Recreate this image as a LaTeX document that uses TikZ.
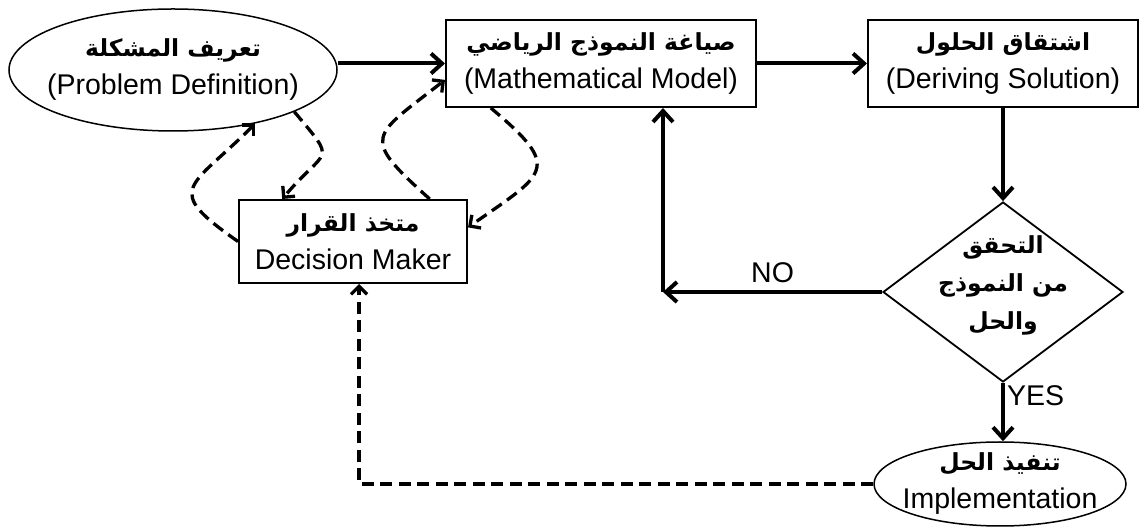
\documentclass[tikz,border=0pt]{standalone}
\usepackage{fontspec}
\setmainfont{Liberation Sans}
\newfontfamily\arabicfont[Script=Arabic]{DejaVu Sans}
\TeXXeTstate=1
\usetikzlibrary{arrows.meta}
\usetikzlibrary{shapes.geometric}
\newcommand{\artext}[1]{{\arabicfont\bfseries\fontsize{23.5}{38}\selectfont\beginR #1\endR}}

\begin{document}
\begin{tikzpicture}[x=1pt,y=1pt,
    font=\fontsize{28.5}{38}\selectfont,
    box/.style={draw, line width=2pt, rectangle, align=center, inner sep=0pt},
    oval/.style={draw, line width=1.5pt, ellipse, align=center, inner sep=-30pt},
    rhombus/.style={draw, line width=1.8pt, diamond, align=center, inner sep=-40pt},
    flow/.style={line width=4pt, -{Straight Barb[length=11pt,width=20pt]}},
    link/.style={line width=3.3pt, dash pattern=on 12pt off 6.5pt, -{Straight Barb[length=8pt,width=16pt]}}]

    \useasboundingbox (0,0) rectangle (1147,532);

    % nodes
    \node[oval, minimum width=328pt, minimum height=122pt] (prob) at (173,462)
        {\artext{تعريف المشكلة}\\(Problem Definition)};
    \node[box, minimum width=310pt, minimum height=87pt] (math) at (601,468.5)
        {\artext{صياغة النموذج الرياضي}\\(Mathematical Model)};
    \node[box, minimum width=270pt, minimum height=87pt] (deriv) at (1003,468.5)
        {\artext{اشتقاق الحلول}\\(Deriving Solution)};
    \node[box, minimum width=228pt, minimum height=83pt] (dm) at (353,290.5)
        {\artext{متخذ القرار}\\Decision Maker};
    \node[rhombus, minimum width=240pt, minimum height=180pt] (check) at (1003,240)
        {\artext{التحقق}\\\artext{من النموذج}\\\artext{والحل}\\[-20pt]};
    \node[oval, minimum width=252pt, minimum height=84pt] (impl) at (1000,48)
        {\artext{تنفيذ الحل}\\Implementation};

    \coordinate (back) at (663,240);
    \coordinate (turn) at (359,48);

    % main flow
    \draw[flow] (prob.east |- math.west) -- (math.west);
    \draw[flow] (math) -- (deriv);
    \draw[flow] (deriv) -- (check);
    \draw[flow] (check.west) -- (back) node[midway, above, yshift=4pt] {NO};
    \draw[flow] (back) -- (back |- math.south);
    \draw[flow] (check.south) -- (check.south |- impl.north) node[pos=0.22, right, inner sep=2pt] {YES};

    % feedback
    \draw[link] (impl.west) -- (turn) -- (turn |- dm.south);
    \draw[link] (prob.-19) to[out=-50, in=50, looseness=2] (dm.149);
    \draw[link] (dm.west) to[out=145, in=225, looseness=2] (prob.-33);
    \draw[link] (dm.29) to[out=138, in=218, looseness=2] (math.186);
    \draw[link] (math.-158) to[out=-40, in=35, looseness=2] (dm.7);

\end{tikzpicture}
\end{document}
